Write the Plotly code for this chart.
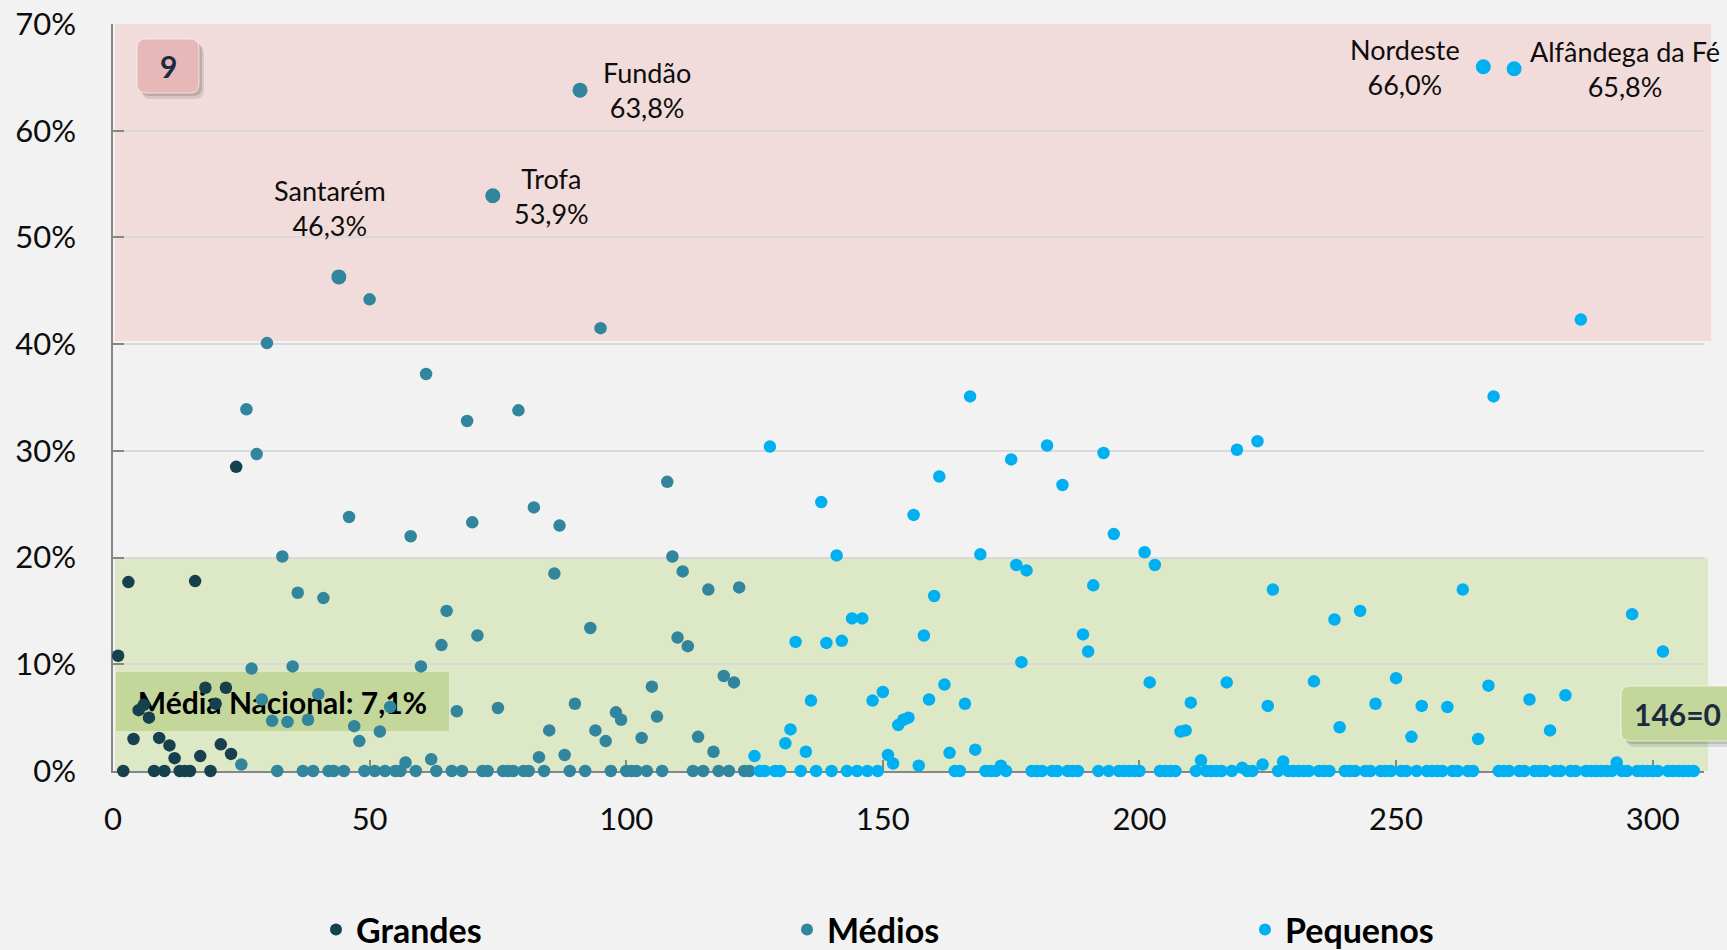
import plotly.graph_objects as go

# ---------------- data ----------------
grandes_start = 1
grandes_y = [10.8, 0, 17.7, 3.0, 5.7, 6.2, 5.0, 0, 3.1, 0,
             2.4, 1.2, 0, 0, 0, 17.8, 1.4, 7.8, 0, 6.3,
             2.5, 7.8, 1.6, 28.5]

medios_start = 25
medios_y = [0.6, 33.9, 9.6, 29.7, 6.7, 40.1, 4.7, 0, 20.1, 4.6,
            9.8, 16.7, 0, 4.8, 0, 7.2, 16.2, 0, 0, 46.3,
            0, 23.8, 4.2, 2.8, 0, 44.2, 0, 3.7, 0, 6.0,
            0, 0, 0.8, 22.0, 0, 9.8, 37.2, 1.1, 0, 11.8,
            15.0, 0, 5.6, 0, 32.8, 23.3, 12.7, 0, 0, 53.9,
            5.9, 0, 0, 0, 33.8, 0, 0, 24.7, 1.3, 0,
            3.8, 18.5, 23.0, 1.5, 0, 6.3, 63.8, 0, 13.4, 3.8,
            41.5, 2.8, 0, 5.5, 4.8, 0, 0, 0, 3.1, 0,
            7.9, 5.1, 0, 27.1, 20.1, 12.5, 18.7, 11.7, 0, 3.2,
            0, 17.0, 1.8, 0, 8.9, 0, 8.3, 17.2, 0, 0]

pequenos_start = 125
pequenos_y = [1.4, 0, 0, 30.4, 0, 0, 2.6, 3.9, 12.1, 0,
              1.8, 6.6, 0, 25.2, 12.0, 0, 20.2, 12.2, 0, 14.3,
              0, 14.3, 0, 6.6, 0, 7.4, 1.5, 0.7, 4.3, 4.8,
              5.0, 24.0, 0.5, 12.7, 6.7, 16.4, 27.6, 8.1, 1.7, 0,
              0, 6.3, 35.1, 2.0, 20.3, 0, 0, 0, 0.5, 0,
              29.2, 19.3, 10.2, 18.8, 0, 0, 0, 30.5, 0, 0,
              26.8, 0, 0, 0, 12.8, 11.2, 17.4, 0, 29.8, 0,
              22.2, 0, 0, 0, 0, 0, 20.5, 8.3, 19.3, 0,
              0, 0, 0, 3.7, 3.8, 6.4, 0, 1.0, 0, 0,
              0, 0, 8.3, 0, 30.1, 0.3, 0, 0, 30.9, 0.6,
              6.1, 17.0, 0, 0.9, 0, 0, 0, 0, 0, 8.4,
              0, 0, 0, 14.2, 4.1, 0, 0, 0, 15.0, 0,
              0, 6.3, 0, 0, 0, 8.7, 0, 0, 3.2, 0,
              6.1, 0, 0, 0, 0, 6.0, 0, 0, 17.0, 0,
              0, 3.0, 66.0, 8.0, 35.1, 0, 0, 0, 65.8, 0,
              0, 6.7, 0, 0, 0, 3.8, 0, 0, 7.1, 0,
              0, 42.3, 0, 0, 0, 0, 0, 0, 0.8, 0,
              0, 14.7, 0, 0, 0, 0, 0, 11.2, 0, 0,
              0, 0, 0, 0]

series_names = ["Grandes", "Médios", "Pequenos"]

label_idx = [44, 74, 91, 267, 273]
label_names = ["Santarém", "Trofa", "Fundão", "Nordeste", "Alfândega da Fé"]

media_nacional = 7.1
count_above = "9"
count_zero = "146=0"

x_ticks = [0, 50, 100, 150, 200, 250, 300]
y_ticks = [0, 10, 20, 30, 40, 50, 60, 70]

# ---------------- styling / geometry ----------------
W, H = 1727, 950
ML, MR, MT, MB = 113, 23, 24, 179
PW, PH = W - ML - MR, H - MT - MB
FONT = "Lato"
colors = ["#17404f", "#31859c", "#00b0f0"]


def pxx(px):
    return (px - ML) / PW


def pxy(py):
    return (H - MB - py) / PH


def rrect(x0, y0, x1, y1, r):
    pts = [
        ("M", [(x0 + r, y0)]), ("L", [(x1 - r, y0)]), ("Q", [(x1, y0), (x1, y0 + r)]),
        ("L", [(x1, y1 - r)]), ("Q", [(x1, y1), (x1 - r, y1)]),
        ("L", [(x0 + r, y1)]), ("Q", [(x0, y1), (x0, y1 - r)]),
        ("L", [(x0, y0 + r)]), ("Q", [(x0, y0), (x0 + r, y0)]),
    ]
    s = ""
    for cmd, ps in pts:
        s += cmd + " " + " ".join(f"{pxx(a):.5f},{pxy(b):.5f}" for a, b in ps) + " "
    return s + "Z"


def fmt_pct(v):
    return f"{v:.1f}".replace(".", ",") + "%"


fig = go.Figure()

starts = [grandes_start, medios_start, pequenos_start]
values = [grandes_y, medios_y, pequenos_y]
legend_ids = ["legend", "legend2", "legend3"]
lookup = {}
for name, st, ys, col, lg in zip(series_names, starts, values, colors, legend_ids):
    xs = list(range(st, st + len(ys)))
    for a, b in zip(xs, ys):
        lookup[a] = b
    sizes = [15 if a in label_idx else 12.5 for a in xs]
    fig.add_trace(go.Scatter(
        x=xs, y=ys, mode="markers", name=name, legend=lg, showlegend=True,
        marker=dict(color=col, size=sizes, opacity=1, line=dict(width=0)),
        cliponaxis=False, hoverinfo="x+y",
    ))

# label offsets (px) relative to the labelled point
label_offsets = [(-9, 69), (59, 0), (67, 0), (-78, 0), (111, 0)]
annotations = []
for idx, nm, (dx, dy) in zip(label_idx, label_names, label_offsets):
    annotations.append(dict(
        x=idx, y=lookup[idx], xref="x", yref="y", showarrow=False,
        text=f"{nm}<br>{fmt_pct(lookup[idx])}", xanchor="center", yanchor="middle",
        xshift=dx, yshift=dy, font=dict(family=FONT, size=27, color="#0d0d0d"),
    ))

shapes = [
    dict(type="rect", xref="paper", yref="y", x0=pxx(115), x1=pxx(1711), y0=40.3, y1=70,
         fillcolor="#f2dcdb", line=dict(width=0), layer="below"),
    dict(type="rect", xref="paper", yref="y", x0=pxx(115), x1=pxx(1708), y0=0, y1=20,
         fillcolor="#dde8c7", line=dict(width=0), layer="below"),
    dict(type="rect", xref="paper", yref="paper", x0=pxx(116), x1=pxx(449), y0=pxy(731), y1=pxy(672),
         fillcolor="#c4d79b", line=dict(width=0), layer="below",
         label=dict(text=f"Média Nacional: {fmt_pct(media_nacional)}", textposition="middle center",
                    font=dict(family=FONT, size=30, color="#000000", weight="bold"))),
]

# badges (text boxes)
for (bx0, by0, bx1, by1, fill, txt, tx) in [
    (137, 39, 199, 93, "#e6b8b7", count_above, 168),
    (1621, 686, 1745, 741, "#c4d79b", count_zero, 1677),
]:
    shapes.append(dict(type="path", xref="paper", yref="paper", path=rrect(bx0 + 5, by0 + 6, bx1 + 5, by1 + 6, 9),
                       fillcolor="rgba(0,0,0,0.10)", line=dict(width=0), layer="above"))
    shapes.append(dict(type="path", xref="paper", yref="paper", path=rrect(bx0 + 3, by0 + 3, bx1 + 3, by1 + 3, 9),
                       fillcolor="rgba(0,0,0,0.13)", line=dict(width=0), layer="above"))
    shapes.append(dict(type="path", xref="paper", yref="paper", path=rrect(bx0, by0, bx1, by1, 9),
                       fillcolor=fill, line=dict(width=1, color="rgba(255,255,255,0.6)"), layer="above"))
    annotations.append(dict(
        x=pxx(tx), y=pxy((by0 + by1) / 2),
        xref="paper", yref="paper", showarrow=False, text=txt, xanchor="center", yanchor="middle",
        font=dict(family=FONT, size=30, color="#1b2a41", weight="bold"),
    ))

legend_common = dict(orientation="h", yanchor="middle", y=pxy(930), xanchor="left",
                     bgcolor="rgba(0,0,0,0)", itemsizing="constant",
                     font=dict(family=FONT, size=34, color="#000000", weight="bold"))

fig.update_layout(
    width=W, height=H, showlegend=True,
    margin=dict(l=ML, r=MR, t=MT, b=MB, autoexpand=False),
    paper_bgcolor="#f2f2f2", plot_bgcolor="#f2f2f2",
    shapes=shapes, annotations=annotations,
    legend=dict(x=pxx(316), **legend_common),
    legend2=dict(x=pxx(787), **legend_common),
    legend3=dict(x=pxx(1245), **legend_common),
    xaxis=dict(range=[0, 310], tickvals=x_ticks, showgrid=False, zeroline=False,
               showline=True, linecolor="#868686", linewidth=1.5, layer="below traces",
               ticks="inside", ticklen=11, tickwidth=1.5, tickcolor="#868686",
               ticklabelstandoff=20,
               tickfont=dict(family=FONT, size=31, color="#0d0d0d")),
    yaxis=dict(range=[0, 70], tickvals=y_ticks, ticktext=[f"{v}%" for v in y_ticks],
               showgrid=True, gridcolor="#d9d9d9", gridwidth=1.5, zeroline=False,
               showline=True, linecolor="#868686", linewidth=1.5, layer="below traces",
               ticks="inside", ticklen=11, tickwidth=1.5, tickcolor="#868686",
               ticklabelstandoff=29,
               tickfont=dict(family=FONT, size=31, color="#0d0d0d")),
)

fig.write_html("out.html", config={"displayModeBar": False},
               post_script="document.body.style.margin='0px';document.body.style.overflow='hidden';")
